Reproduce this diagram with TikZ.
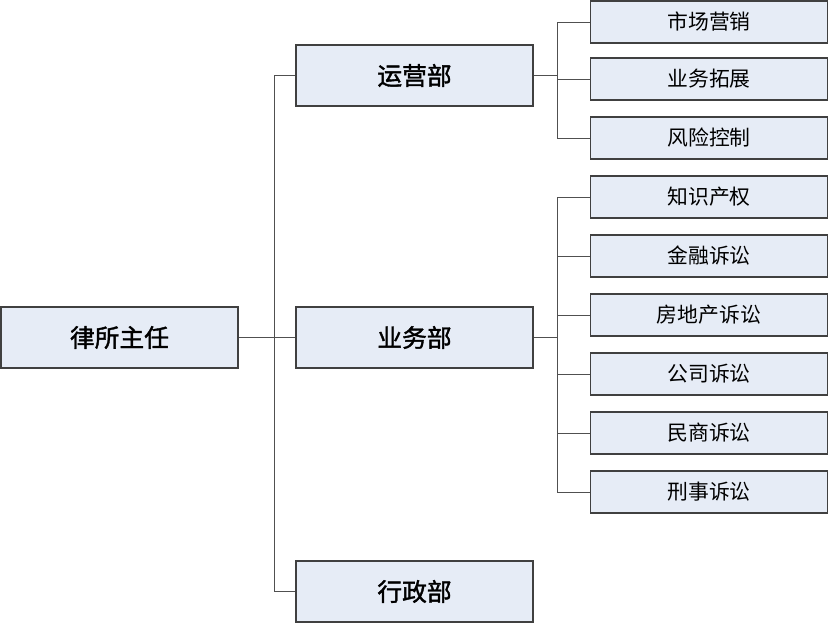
\documentclass[tikz,border=0pt]{standalone}
\usepackage{fontspec}
\setmainfont{Noto Sans CJK SC}
\newfontfamily\headfont[FakeBold=1.5]{Noto Sans CJK SC}
\usepackage{tikz}
\usetikzlibrary{positioning}
\definecolor{boxfill}{RGB}{230,236,246}
\definecolor{boxline}{RGB}{64,64,64}
\definecolor{linkgray}{RGB}{80,80,80}
\tikzset{
  box/.style={draw=boxline, line width=1pt, fill=boxfill, minimum width=237*0.025cm, inner sep=0pt},
  bigbox/.style={box, minimum height=61*0.025cm, font=\headfont\fontsize{17.6}{20}\selectfont},
  smallbox/.style={box, minimum height=42*0.025cm, font=\fontsize{14.8}{17}\selectfont},
  link/.style={draw=linkgray, line width=0.7pt}
}

\begin{document}
\begin{tikzpicture}[x=0.025cm,y=-0.025cm]
        \useasboundingbox (0,0) rectangle (828,623);
        % top level
        \node[bigbox] (head) at (119.5,337.5) {律所主任};
        % departments
        \node[bigbox] (ops) at (414.5,75.5) {运营部};
        \node[bigbox] (biz) at (414.5,337.5) {业务部};
        \node[bigbox] (adm) at (414.5,591.5) {行政部};
        % groups
        \node[smallbox] (mkt) at (709,22) {市场营销};
        \node[smallbox] (dev) at (709,79) {业务拓展};
        \node[smallbox] (risk) at (709,138) {风险控制};
        \node[smallbox] (ip) at (709,197) {知识产权};
        \node[smallbox] (fin) at (709,256) {金融诉讼};
        \node[smallbox] (estate) at (709,315) {房地产诉讼};
        \node[smallbox] (corp) at (709,374) {公司诉讼};
        \node[smallbox] (civil) at (709,433) {民商诉讼};
        \node[smallbox] (crim) at (709,492) {刑事诉讼};
        % buses
        \coordinate (busA) at (274,0);
        \coordinate (busB) at (557,0);
        \draw[link] (head.east) -- (biz.west);
        \draw[link] (ops.west) -- (ops.west -| busA) |- (adm.west);
        \draw[link] (ops.east) -- (ops.east -| busB);
        \draw[link] (mkt.west) -- (mkt.west -| busB) |- (risk.west);
        \draw[link] (dev.west) -- (dev.west -| busB);
        \draw[link] (biz.east) -- (biz.east -| busB);
        \draw[link] (ip.west) -- (ip.west -| busB) |- (crim.west);
        \foreach \g in {fin,estate,corp,civil}{
            \draw[link] (\g.west) -- (\g.west -| busB);
        }
\end{tikzpicture}
\end{document}
